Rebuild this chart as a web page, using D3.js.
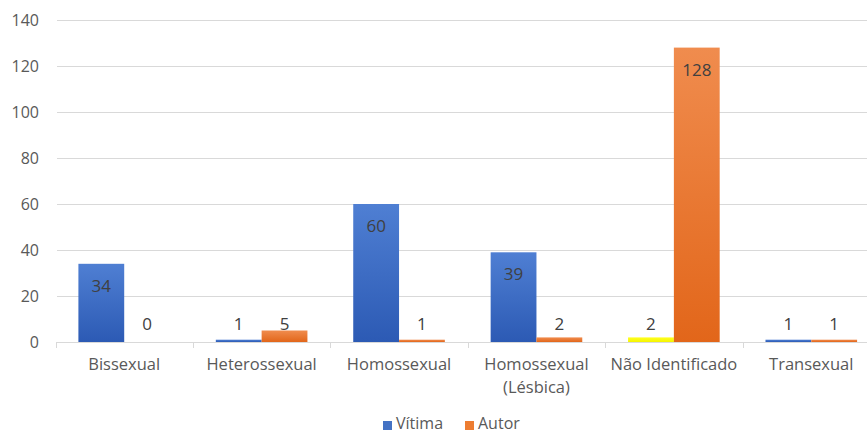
<!DOCTYPE html>
<html><head><meta charset="utf-8">
<script src="https://cdn.jsdelivr.net/npm/d3@7"></script>
<style>body{margin:0;background:#fff}svg{display:block}text{font-family:"Open Sans",sans-serif}</style>
</head><body><svg id="c" width="867" height="434"></svg>
<script>
const categories = [["Bissexual"],["Heterossexual"],["Homossexual"],["Homossexual","(Lésbica)"],["Não Identificado"],["Transexual"]];
const vitima = [34, 1, 60, 39, 2, 1];
const autor = [0, 5, 1, 2, 128, 1];
const seriesNames = ["Vítima", "Autor"];
const yTicks = [0, 20, 40, 60, 80, 100, 120, 140];

const svg = d3.select("#c");
const W = 867, H = 434;
const x = d3.scaleBand().domain(d3.range(categories.length)).range([55.5, 880]).paddingInner(0).paddingOuter(0);
const y = d3.scaleLinear().domain([0, 140]).range([342, 20]);

const defs = svg.append("defs");
function grad(id, c1, c2){
  const g = defs.append("linearGradient").attr("id", id).attr("x1",0).attr("x2",0).attr("y1",0).attr("y2",1);
  g.append("stop").attr("offset","0%").attr("stop-color",c1);
  g.append("stop").attr("offset","100%").attr("stop-color",c2);
}
grad("gb", "#4f7fd3", "#2c5ab4");
grad("go", "#f08c4e", "#e2661a");
grad("gy", "#ffff20", "#f5f500");

// gridlines
svg.append("g").selectAll("line").data(yTicks.slice(1)).join("line")
  .attr("x1", 57).attr("x2", W).attr("y1", d => Math.round(y(d))+0.5).attr("y2", d => Math.round(y(d))+0.5)
  .attr("stroke", "#d9d9d9").attr("stroke-width", 1);

// y axis labels
const ya = svg.append("g").attr("transform", "translate(39,0)")
  .call(d3.axisLeft(y).tickValues(yTicks).tickSize(0).tickPadding(0));
ya.select(".domain").remove();
ya.selectAll("text").attr("fill", "#595959").style("font-size", "16px").style("font-family", '"Open Sans",sans-serif');

// bars
const data = [];
categories.forEach((c, i) => {
  data.push({i, s: 0, v: vitima[i]});
  data.push({i, s: 1, v: autor[i]});
});
const fillFor = d => d.s === 1 ? "url(#go)" : (d.i === 4 ? "url(#gy)" : "url(#gb)");
const bw = x.bandwidth() / 3;
const bx = d => x(d.i) + x.bandwidth()/6 + d.s * bw;
svg.append("g").selectAll("rect").data(data).join("rect")
  .attr("x", bx).attr("width", bw)
  .attr("y", d => y(d.v)).attr("height", d => Math.max(0, y(0) - y(d.v)))
  .attr("fill", fillFor);

// x axis baseline
const xa = svg.append("g").attr("transform", "translate(0,342.5)")
  .call(d3.axisBottom(x).tickValues([]).tickSize(0));
xa.select(".domain").attr("stroke", "#d9d9d9").attr("d", "M57,0H" + W);
svg.append("g").selectAll("line").data(d3.range(categories.length)).join("line")
  .attr("x1", d => Math.round(x(d))+0.5).attr("x2", d => Math.round(x(d))+0.5)
  .attr("y1", 342).attr("y2", 348).attr("stroke", "#d9d9d9");

// data labels
svg.append("g").selectAll("text").data(data).join("text")
  .attr("x", d => bx(d) + bw/2)
  .attr("y", d => (y(0) - y(d.v) > 44) ? y(d.v) + 28 : 330)
  .attr("text-anchor", "middle").attr("fill", "#404040").style("font-size", "17px")
  .text(d => d.v);

// category labels
const cl = svg.append("g").selectAll("text").data(categories).join("text")
  .attr("text-anchor", "middle").attr("fill", "#595959").style("font-size", "16.5px")
  .attr("x", (d, i) => x(i) + x.bandwidth()/2).attr("y", 370);
cl.selectAll("tspan").data(d => d).join("tspan")
  .attr("x", function(){ return this.parentNode.getAttribute("x"); })
  .attr("dy", (d, j) => j === 0 ? 0 : 23).text(d => d);

// legend
const leg = svg.append("g");
const legItems = [{n: seriesNames[0], c: "#4472c4", x: 383}, {n: seriesNames[1], c: "#ed7d31", x: 465}];
legItems.forEach(l => {
  leg.append("rect").attr("x", l.x).attr("y", 421).attr("width", 9).attr("height", 9).attr("fill", l.c);
  leg.append("text").attr("x", l.x + 13).attr("y", 429).attr("fill", "#595959").style("font-size", "16px").text(l.n);
});
</script></body></html>
